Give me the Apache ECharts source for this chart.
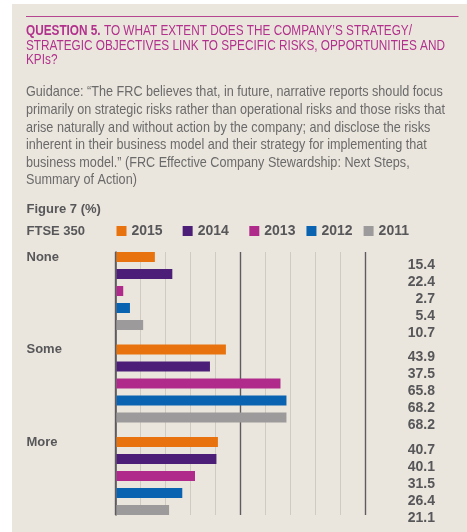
<!DOCTYPE html>
<html>
<head>
<meta charset="utf-8">
<script src="https://cdn.jsdelivr.net/npm/echarts@6/dist/echarts.min.js"></script>
<style>
  html, body { margin: 0; padding: 0; background: #ffffff; }
  #chart { width: 467px; height: 532px; }
</style>
</head>
<body>
<div id="chart"></div>
<script>
// Figure 7 (%), FTSE 350: share of companies by response, per survey year
const categories = ['None', 'Some', 'More'];
const years = ['2015', '2014', '2013', '2012', '2011'];
const values2015 = [15.4, 43.9, 40.7];
const values2014 = [22.4, 37.5, 40.1];
const values2013 = [2.7, 65.8, 31.5];
const values2012 = [5.4, 68.2, 26.4];
const values2011 = [10.7, 68.2, 21.1];
const xTicks = [0, 10, 20, 30, 40, 50, 60, 70, 80, 90, 100];

const headingLead = 'QUESTION 5.';
const headingLines = [
  ' TO WHAT EXTENT DOES THE COMPANY\u2019S STRATEGY/',
  'STRATEGIC OBJECTIVES LINK TO SPECIFIC RISKS, OPPORTUNITIES AND',
  'KPIs?'
];
const guidanceLines = [
  'Guidance: \u201CThe FRC believes that, in future, narrative reports should focus',
  'primarily on strategic risks rather than operational risks and those risks that',
  'arise naturally and without action by the company; and disclose the risks',
  'inherent in their business model and their strategy for implementing that',
  'business model.\u201D (FRC Effective Company Stewardship: Next Steps,',
  'Summary of Action)'
];

const FONT = '"Liberation Sans", Arial, "DejaVu Sans", sans-serif';
const seriesColors = ['#e8730e', '#4c1e78', '#b02a8c', '#0a63b1', '#9c9a9a'];
const magenta = '#b2318d';
const labelGray = '#57575a';
const darkRule = '#5e5c60';
const HEAD_SIZE = 14;
const GUIDE_SIZE = 14.5;

// condensed look for the text blocks: squeeze a regular face horizontally
const measureCtx = document.createElement('canvas').getContext('2d');
function textWidth(str, font) {
  measureCtx.font = font;
  return measureCtx.measureText(str).width;
}
const headingFirstWidth =
  textWidth(headingLead, 'bold ' + HEAD_SIZE + 'px ' + FONT) +
  textWidth(headingLines[0], HEAD_SIZE + 'px ' + FONT);
const headingScale = 386 / headingFirstWidth;
const guidanceScale = 419 / textWidth(guidanceLines[1], GUIDE_SIZE + 'px ' + FONT);

const seriesValues = [values2015, values2014, values2013, values2012, values2011];

const chart = echarts.init(document.getElementById('chart'), null, { renderer: 'canvas' });

const legendText = { fontFamily: FONT, fontSize: 14, fontWeight: 'bold', color: labelGray, lineHeight: 14 };

const option = {
  backgroundColor: '#ffffff',
  animation: false,
  textStyle: { fontFamily: FONT },
  graphic: [
    {
      type: 'rect', z: -10, silent: true,
      shape: { x: 12, y: 4, width: 455, height: 528 },
      style: { fill: '#ebe6dd' }
    },
    {
      type: 'line', silent: true,
      shape: { x1: 26, y1: 16.5, x2: 458.5, y2: 16.5 },
      style: { stroke: '#b5458f', lineWidth: 1.2 }
    },
    {
      type: 'text', silent: true,
      x: 26, y: 24.5, scaleX: headingScale,
      style: {
        text: '{b|' + headingLead + '}{r|' + headingLines[0] + '}\n{r|' +
              headingLines[1] + '}\n{r|' + headingLines[2] + '}',
        verticalAlign: 'top', align: 'left',
        rich: {
          b: { fontFamily: FONT, fontSize: HEAD_SIZE, fontWeight: 'bold', fill: magenta, lineHeight: 14.2 },
          r: { fontFamily: FONT, fontSize: HEAD_SIZE, fill: magenta, lineHeight: 14.2 }
        }
      }
    },
    {
      type: 'text', silent: true,
      x: 26, y: 83.5, scaleX: guidanceScale,
      style: {
        text: guidanceLines.join('\n'),
        fontFamily: FONT, fontSize: GUIDE_SIZE, lineHeight: 17.6,
        fill: '#6a6a6a', verticalAlign: 'top', align: 'left'
      }
    },
    {
      type: 'text', silent: true,
      x: 26.5, y: 209.5,
      style: {
        text: 'Figure 7 (%)', fontFamily: FONT, fontSize: 13, fontWeight: 'bold',
        fill: labelGray, verticalAlign: 'middle', align: 'left'
      }
    },
    {
      type: 'text', silent: true,
      x: 26.5, y: 231,
      style: {
        text: 'FTSE 350', fontFamily: FONT, fontSize: 13, fontWeight: 'bold',
        fill: labelGray, verticalAlign: 'middle', align: 'left'
      }
    }
  ],
  legend: [
    {
      data: years.slice(0, 2),
      left: 116.5, top: 224, padding: 0,
      itemWidth: 10, itemHeight: 10, itemGap: 20,
      icon: 'rect', selectedMode: false,
      textStyle: legendText
    },
    {
      data: years.slice(2),
      left: 249.3, top: 224, padding: 0,
      itemWidth: 10, itemHeight: 10, itemGap: 11,
      icon: 'rect', selectedMode: false,
      textStyle: legendText
    }
  ],
  grid: [
    { left: 116.5, right: 101.3, top: 244.75, height: 277.5, containLabel: false },
    { left: 115.5, right: 101.3, top: 252, height: 263, containLabel: false }
  ],
  xAxis: [
    { gridIndex: 0, type: 'value', min: 0, max: 100, show: false, splitLine: { show: false } },
    {
      gridIndex: 1, type: 'value', min: xTicks[0], max: xTicks[xTicks.length - 1], interval: 10,
      axisLine: { show: false }, axisTick: { show: false }, axisLabel: { show: false },
      splitLine: { show: true, lineStyle: { color: '#cfcac2', width: 1 } }
    },
    {
      gridIndex: 1, type: 'value', min: xTicks[0], max: xTicks[xTicks.length - 1], interval: 50,
      axisLine: { show: false }, axisTick: { show: false }, axisLabel: { show: false },
      splitLine: { show: true, showMinLine: true, showMaxLine: true,
                   lineStyle: { color: darkRule, width: 1.4 } }
    }
  ],
  yAxis: [
    {
      gridIndex: 0, type: 'category', data: categories, inverse: true,
      axisLine: { show: false }, axisTick: { show: false }, splitLine: { show: false },
      axisLabel: {
        margin: 90, align: 'left', verticalAlign: 'bottom', lineHeight: 68,
        fontFamily: FONT, fontSize: 13, fontWeight: 'bold', color: labelGray
      }
    },
    {
      // zero baseline of the scale
      gridIndex: 1, type: 'value', min: 0, max: 1, position: 'left',
      axisLine: { show: true, onZero: false, lineStyle: { color: darkRule, width: 1.6 } },
      axisTick: { show: false }, axisLabel: { show: false }, splitLine: { show: false }
    }
  ],
  series: years.map((year, i) => ({
    name: year,
    type: 'bar',
    xAxisIndex: 0,
    yAxisIndex: 0,
    data: seriesValues[i],
    barWidth: 10,
    barGap: '70%',
    itemStyle: { color: seriesColors[i] },
    label: {
      show: true,
      position: 'right',
      formatter: (p) => p.value.toFixed(1),
      fontFamily: FONT, fontSize: 14, fontWeight: 'bold', color: labelGray
    },
    labelLayout: { x: 435, align: 'right', dy: 1 }
  }))
};

chart.setOption(option);
</script>
</body>
</html>
